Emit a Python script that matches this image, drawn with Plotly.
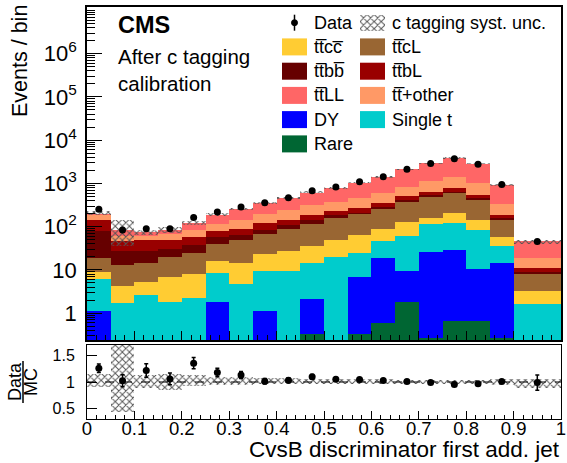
import numpy as np
import plotly.graph_objects as go

# ---------------- data ----------------
bin_edges = [0.0, 0.05, 0.10, 0.15, 0.20, 0.25, 0.30, 0.35, 0.40, 0.45, 0.50,
             0.55, 0.60, 0.65, 0.70, 0.75, 0.80, 0.85, 0.90, 1.00]

rare     = [0.05, 0.05, 0.05, 0.05, 0.05, 0.05, 0.05, 0.05, 0.05, 0.33, 0.05, 0.33, 0.6, 1.77, 0.27, 0.66, 0.66, 0.27, 0.05]
dy       = [1.09, 0.05, 0.05, 0.05, 0.05, 1.79, 0.05, 1.09, 0.05, 1.85, 0.05, 6.57, 17.9, 7.63, 25.7, 28.3, 9.9, 14.3, 0.05]
single_t = [4.96, 1.58, 2.5, 1.76, 2.2, 6.76, 4.6, 8.26, 9.3, 12.4, 19.7, 17.9, 27.5, 50.6, 89, 90, 74.4, 20.4, 1.53]
ttcc     = [3.0, 2.59, 2.7, 5.04, 5.6, 7.4, 9.9, 13.4, 18.6, 20.4, 30.2, 40.2, 44, 67, 48, 86, 60, 22, 1.67]
ttcl     = [9.4, 8.63, 9.1, 12.9, 16.9, 24, 33.4, 45.2, 62, 80, 108, 130, 168, 253, 332, 385, 270, 88, 4.9]
ttbb     = [59.5, 15.1, 12.6, 10.8, 13.8, 17, 17, 17, 17, 30, 24, 10, 34, 35, 47, 55, 38, 13, 0.9]
ttbl     = [66, 19, 21.5, 19.4, 18.4, 21, 25, 36, 38, 43, 51, 72, 56, 110, 103, 122, 89, 24, 1.8]
tt_other = [44, 15, 13.5, 18, 25, 37, 55, 74, 100, 130, 147, 193, 242, 305, 490, 658, 458, 148, 8.1]
ttll     = [12, 20, 12, 17, 39, 70, 107, 160, 210, 297, 410, 570, 790, 1290, 1775, 2495, 1880, 610, 27]

data     = [252, 84, 90, 90, 164, 218, 285, 360, 470, 675, 830, 1090, 1420, 2140, 2880, 3730, 2790, 950, 45.5]
data_err = [15.9, 9.2, 9.5, 9.5, 12.8, 14.8, 16.9, 19.0, 21.7, 26.0, 28.8, 33.0, 37.7, 46.3, 53.7, 61.1, 52.8, 30.8, 6.7]

# relative c-tagging systematic uncertainty (up / down)
syst_up = [0.15, 0.72, 0.13, 0.16, 0.13, 0.10, 0.09, 0.07, 0.07, 0.06, 0.05, 0.05, 0.05, 0.045, 0.045, 0.045, 0.045, 0.05, 0.065]
syst_dn = [0.09, 0.57, 0.11, 0.16, 0.08, 0.05, 0.05, 0.045, 0.035, 0.04, 0.04, 0.04, 0.04, 0.04, 0.04, 0.04, 0.04, 0.05, 0.12]

x_tick_vals = [0, 0.1, 0.2, 0.3, 0.4, 0.5, 0.6, 0.7, 0.8, 0.9, 1.0]
x_tick_text = ["0", "0.1", "0.2", "0.3", "0.4", "0.5", "0.6", "0.7", "0.8", "0.9", "1"]
y_tick_vals = [1, 10, 100, 1e3, 1e4, 1e5, 1e6]
y_tick_text = ["1", "10", "10<sup>2</sup>", "10<sup>3</sup>", "10<sup>4</sup>", "10<sup>5</sup>", "10<sup>6</sup>"]
r_tick_vals = [0.5, 1.0, 1.5]
r_tick_text = ["0.5", "1", "1.5"]

# components bottom -> top
components = [
    ("Rare", rare, "#006633"),
    ("DY", dy, "#0000ff"),
    ("Single t", single_t, "#00cccc"),
    ("tt\u0305cc\u0305", ttcc, "#ffcc33"),
    ("tt\u0305cL", ttcl, "#996633"),
    ("tt\u0305bb\u0305", ttbb, "#660000"),
    ("tt\u0305bL", ttbl, "#990000"),
    ("tt\u0305+other", tt_other, "#ff9966"),
    ("tt\u0305LL", ttll, "#ff6666"),
]

edges = np.array(bin_edges)
centers = 0.5 * (edges[1:] + edges[:-1])
widths = np.diff(edges)
cum = np.cumsum(np.array([c[1] for c in components]), axis=0)
total = cum[-1]

# ---------------- geometry ----------------
W, H = 567, 463
ML, MR, MT, MB = 87, 6, 7, 44
PW, PH = W - ML - MR, H - MT - MB

def px(x):
    return (x - ML) / PW

def py(y):
    return (H - MB - y) / PH

FONT = "Liberation Sans, Arial, Helvetica, sans-serif"
HATCH = dict(shape="x", fgcolor="#555555", size=5, solidity=0.35, fillmode="replace")

fig = go.Figure()

# stacked histograms (drawn as cumulative, tallest first)
for i in range(len(components) - 1, -1, -1):
    name, vals, col = components[i]
    fig.add_trace(go.Bar(
        x=centers, y=cum[i], width=widths, marker=dict(color=col, line=dict(width=0)),
        opacity=1, name=name, showlegend=False, xaxis="x", yaxis="y", hoverinfo="skip"))

# systematic band on the stack
up = np.array(syst_up)
dn = np.array(syst_dn)
fig.add_trace(go.Bar(
    x=centers, y=total * (up + dn), base=total * (1 - dn), width=widths,
    marker=dict(color="rgba(0,0,0,0)", line=dict(width=0), pattern=HATCH),
    showlegend=False, xaxis="x", yaxis="y", hoverinfo="skip"))

# data
fig.add_trace(go.Scatter(
    x=centers, y=data, mode="markers",
    marker=dict(color="black", size=7),
    error_y=dict(type="data", array=data_err, color="black", thickness=1.2, width=0),
    showlegend=False, xaxis="x", yaxis="y"))

# ratio band
fig.add_trace(go.Bar(
    x=centers, y=up + dn, base=1 - dn, width=widths,
    marker=dict(color="rgba(0,0,0,0)", line=dict(width=0), pattern=HATCH),
    showlegend=False, xaxis="x2", yaxis="y2", hoverinfo="skip"))

ratio = np.array(data) / total
ratio_err = np.array(data_err) / total
fig.add_trace(go.Scatter(
    x=centers, y=ratio, mode="markers",
    marker=dict(color="black", size=7),
    error_y=dict(type="data", array=ratio_err, color="black", thickness=1.5, width=2),
    showlegend=False, xaxis="x2", yaxis="y2"))

# legend key for the hatched band (auxiliary axes)
fig.add_trace(go.Bar(
    x=[0.5], y=[1], width=[1],
    marker=dict(color="rgba(0,0,0,0)", line=dict(width=0), pattern=HATCH),
    showlegend=False, xaxis="x3", yaxis="y3", hoverinfo="skip"))

top_dom = [py(340), 1.0]
rat_dom = [0.0, py(345)]

fig.update_layout(
    template="none",
    width=W, height=H, margin=dict(l=ML, r=MR, t=MT, b=MB, autoexpand=False),
    paper_bgcolor="white", plot_bgcolor="white",
    barmode="overlay", bargap=0, showlegend=False,
    font=dict(family=FONT, color="black"),
    xaxis=dict(domain=[0, 1], range=[0, 1], anchor="y", showticklabels=False, automargin=False,
               tickvals=x_tick_vals, ticks="inside", ticklen=9, tickwidth=1, tickcolor="black",
               minor=dict(dtick=0.02, ticks="inside", ticklen=5, tickwidth=1, tickcolor="black", showgrid=False),
               showline=True, linewidth=1.5, linecolor="black", mirror=True, showgrid=False, zeroline=False),
    yaxis=dict(domain=top_dom, type="log", range=[-0.62, 7.08], anchor="x", automargin=False,
               tickvals=y_tick_vals, ticktext=y_tick_text, ticks="inside", ticklen=15, tickwidth=1,
               tickcolor="black", tickfont=dict(size=22, family=FONT), ticklabelstandoff=4,
               minor=dict(dtick="D1", ticks="inside", ticklen=8, tickwidth=1, tickcolor="black", showgrid=False),
               showline=True, linewidth=1.5, linecolor="black", mirror=True, showgrid=False, zeroline=False),
    xaxis2=dict(domain=[0, 1], range=[0, 1], anchor="y2", automargin=False,
                tickvals=x_tick_vals, ticktext=x_tick_text, ticks="inside", ticklen=8, tickwidth=1,
                tickcolor="black", tickfont=dict(size=18.5, family=FONT), ticklabelstandoff=-7,
                minor=dict(dtick=0.02, ticks="inside", ticklen=4, tickwidth=1, tickcolor="black", showgrid=False),
                showline=True, linewidth=1, linecolor="black", mirror=True, showgrid=False, zeroline=False),
    yaxis2=dict(domain=rat_dom, range=[0.3, 1.7], anchor="x2", automargin=False,
                tickvals=r_tick_vals, ticktext=r_tick_text, ticks="inside", ticklen=10, tickwidth=1,
                tickcolor="black", tickfont=dict(size=16, family=FONT), ticklabelstandoff=8,
                showline=True, linewidth=1, linecolor="black", mirror=True, showgrid=False, zeroline=False),
    xaxis3=dict(domain=[px(360), px(385)], range=[0, 1], anchor="y3", visible=False,
                fixedrange=True, automargin=False),
    yaxis3=dict(domain=[py(31), py(14.5)], range=[0, 1], anchor="x3", visible=False,
                fixedrange=True, automargin=False),
)

shapes = []
annotations = []

# dashed line at 1 in ratio panel
shapes.append(dict(type="line", xref="x2", yref="y2", x0=0, x1=1, y0=1, y1=1,
                   line=dict(color="black", width=1, dash="dash"), layer="above"))

# ---------------- manual legend ----------------
row_y = [22.7, 46.9, 71.2, 95.4, 119.6, 143.9]
col_box = [282, 360]
col_txt = [312, 390]
LEG_FONT = dict(size=18, family=FONT, color="black")

# data entry
shapes.append(dict(type="line", xref="paper", yref="paper", x0=px(294.5), x1=px(294.5),
                   y0=py(row_y[0] - 8), y1=py(row_y[0] + 8), line=dict(color="black", width=1.5)))
shapes.append(dict(type="circle", xref="paper", yref="paper", x0=px(291.5), x1=px(297.5),
                   y0=py(row_y[0] - 3), y1=py(row_y[0] + 3), fillcolor="black", line=dict(color="black", width=1)))
annotations.append(dict(text="Data", x=px(col_txt[0]), y=py(row_y[0]), xref="paper", yref="paper",
                        xanchor="left", yanchor="middle", showarrow=False, font=LEG_FONT))
annotations.append(dict(text="c tagging syst. unc.", x=px(col_txt[1]), y=py(row_y[0]), xref="paper",
                        yref="paper", xanchor="left", yanchor="middle", showarrow=False, font=LEG_FONT))

legend_order = ["tt\u0305cc\u0305", "tt\u0305cL", "tt\u0305bb\u0305", "tt\u0305bL", "tt\u0305LL",
                "tt\u0305+other", "DY", "Single t", "Rare"]
col_of = {c[0]: c[2] for c in components}
for k, name in enumerate(legend_order):
    r = 1 + k // 2
    c = k % 2
    yc = row_y[r]
    shapes.append(dict(type="rect", xref="paper", yref="paper",
                       x0=px(col_box[c]), x1=px(col_box[c] + 25),
                       y0=py(yc - 8.5), y1=py(yc + 8.5),
                       fillcolor=col_of[name], line=dict(width=0)))
    annotations.append(dict(text=name, x=px(col_txt[c]), y=py(yc), xref="paper", yref="paper",
                            xanchor="left", yanchor="middle", showarrow=False, font=LEG_FONT))

# ---------------- texts ----------------
annotations.append(dict(text="<b>CMS</b>", x=px(116), y=py(25), xref="paper", yref="paper",
                        xanchor="left", yanchor="middle", showarrow=False,
                        font=dict(size=23.5, family=FONT, color="black")))
annotations.append(dict(text="After c tagging<br>calibration", x=px(116), y=py(43), xref="paper",
                        yref="paper", xanchor="left", yanchor="top", align="left", showarrow=False,
                        font=dict(size=20.5, family=FONT, color="black")))
annotations.append(dict(text="Events / bin", x=px(20), y=py(3), xref="paper", yref="paper",
                        xanchor="center", yanchor="top", textangle=-90, showarrow=False,
                        font=dict(size=21.5, family=FONT, color="black")))
annotations.append(dict(text="CvsB discriminator first add. jet", x=px(562), y=py(464), xref="paper",
                        yref="paper", xanchor="right", yanchor="bottom", showarrow=False,
                        font=dict(size=22.5, family=FONT, color="black")))
# Data / MC fraction
annotations.append(dict(text="Data", x=px(15), y=py(382), xref="paper", yref="paper",
                        xanchor="center", yanchor="middle", textangle=-90, showarrow=False,
                        font=dict(size=18, family=FONT, color="black")))
annotations.append(dict(text="MC", x=px(31), y=py(382), xref="paper", yref="paper",
                        xanchor="center", yanchor="middle", textangle=-90, showarrow=False,
                        font=dict(size=18, family=FONT, color="black")))
shapes.append(dict(type="line", xref="paper", yref="paper", x0=px(23), x1=px(23),
                   y0=py(361), y1=py(403), line=dict(color="black", width=1.5)))

fig.update_layout(shapes=shapes, annotations=annotations)
fig.write_html("out.html", config={"displayModeBar": False},
               post_script="document.body.style.margin='0px';document.body.style.overflow='hidden';")
